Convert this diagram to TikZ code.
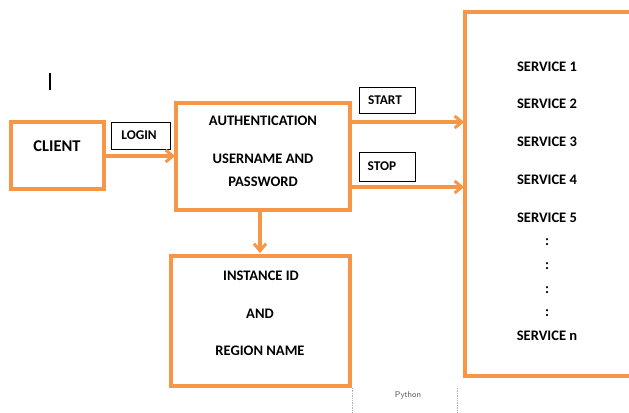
\documentclass[tikz,border=0pt]{standalone}
\usepackage{fontspec}
\setmainfont{Carlito}
\usetikzlibrary{arrows.meta}
\definecolor{orng}{RGB}{247,150,70}
\definecolor{pygray}{RGB}{90,90,90}
\begin{document}
\begin{tikzpicture}[x=1bp,y=-1bp,
  obox/.style={draw=orng,line width=3.2bp,fill=white},
  lbox/.style={draw=black,line width=0.9bp,fill=white,inner sep=0pt},
  conn/.style={draw=orng,line width=3.2bp,-{Straight Barb[length=7bp,width=12bp,line width=3bp]}},
  txt/.style={font=\bfseries\fontsize{14.6}{16}\selectfont,inner sep=0pt},
  stxt/.style={font=\bfseries\fontsize{13.4}{15}\selectfont,inner sep=0pt}]
\useasboundingbox (0,0) rectangle (629,412);
\fill[white] (0,0) rectangle (629,412);
% cursor mark
\draw[line width=1.4bp] (50,73) -- (50,90);
% boxes
\draw[obox] (11,122) rectangle (104,189);
\node (client) at (11,122) [minimum width=93bp,minimum height=67bp,anchor=north west,inner sep=0pt] {};
\node[txt,font=\bfseries\fontsize{16.5}{18}\selectfont] (clienttxt) at (57,146) {CLIENT};
\draw[lbox] (111,122) rectangle (170,149);
\node[stxt] (login) at (139,135) {LOGIN};
\draw[obox] (176,103) rectangle (350,210);
\node (auth) at (176,103) [minimum width=174bp,minimum height=107bp,anchor=north west,inner sep=0pt] {};
\node[txt] (a1) at (263,121) {AUTHENTICATION};
\node[txt] (a2) at (263,159) {USERNAME AND};
\node[txt] (a3) at (263,182) {PASSWORD};
\draw[lbox] (359,87) rectangle (415,113);
\node[stxt] (start) at (385,100) {START};
\draw[lbox] (359,152) rectangle (415,181);
\node[stxt] (stop) at (382,166) {STOP};
\draw[obox] (640,12) -- (465,12) -- (465,376) -- (640,376);
\node (serv) at (465,12) [minimum width=170bp,minimum height=364bp,anchor=north west,inner sep=0pt] {};
\draw[obox] (171,256) rectangle (350,386);
\node (inst) at (171,256) [minimum width=179bp,minimum height=130bp,anchor=north west,inner sep=0pt] {};
\node[txt] (i1) at (261,276) {INSTANCE ID};
\node[txt] (i2) at (260,314) {AND};
\node[txt] (i3) at (260,351) {REGION NAME};
\node[txt] (s1) at (547,67) {SERVICE 1};
\node[txt] (s2) at (547,104) {SERVICE 2};
\node[txt] (s3) at (547,142) {SERVICE 3};
\node[txt] (s4) at (547,180) {SERVICE 4};
\node[txt] (s5) at (547,218) {SERVICE 5};
\node[txt] (c1) at (547,242) {:};
\node[txt] (c2) at (547,266) {:};
\node[txt] (c3) at (547,290) {:};
\node[txt] (c4) at (547,313) {:};
\node[txt] (sn) at (547,336) {SERVICE n};
% connectors
\draw[conn] (client.east |- 0,156) -- ([xshift=-1bp]auth.west |- 0,156);
\draw[conn] (auth.east |- 0,122) -- ([xshift=-1bp]serv.west |- 0,122);
\draw[conn] (auth.east |- 0,187) -- ([xshift=-1bp]serv.west |- 0,187);
\draw[conn] (260,210) -- (260,253);
% python snippet
\draw[densely dotted,gray!60,line width=0.7bp] (352,388) -- (352,412);
\draw[densely dotted,gray!60,line width=0.7bp] (457,388) -- (457,412);
\node[font=\sffamily\fontsize{8.5}{9}\selectfont,text=pygray] (py) at (408,395) {Python};
\end{tikzpicture}
\end{document}
